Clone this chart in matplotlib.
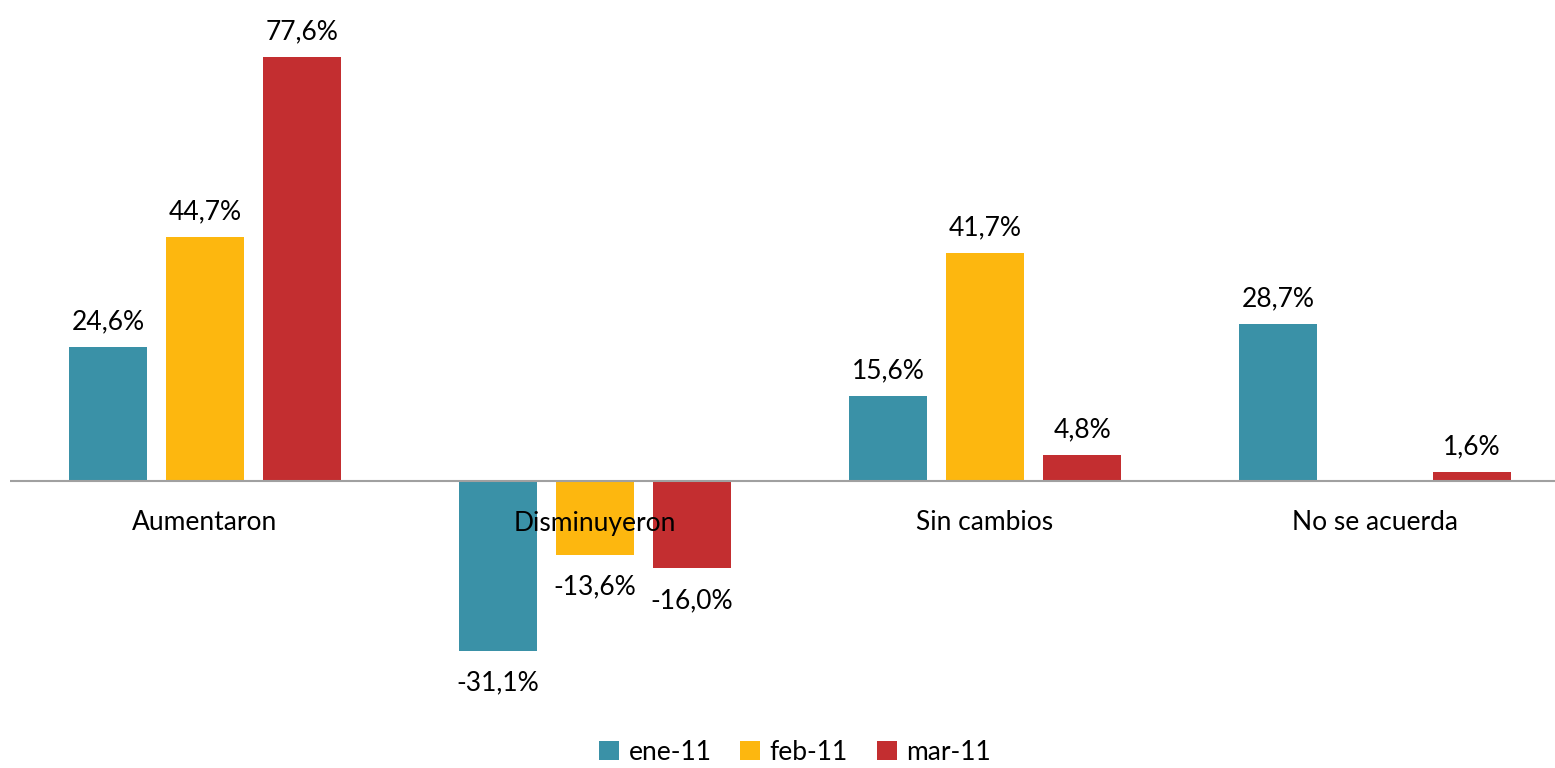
import matplotlib
matplotlib.use("Agg")
import matplotlib.pyplot as plt
import numpy as np
from matplotlib.transforms import offset_copy

categories = ["Aumentaron", "Disminuyeron", "Sin cambios", "No se acuerda"]
series_names = ["ene-11", "feb-11", "mar-11"]
ene = [24.6, -31.1, 15.6, 28.7]
feb = [44.7, -13.6, 41.7, np.nan]
mar = [77.6, -16.0, 4.8, 1.6]
colors = ["#3A91A7", "#FDB70F", "#C32E30"]

plt.rcParams['font.family'] = ['Lato', 'DejaVu Sans']
FS = 19

fig = plt.figure(figsize=(15.55, 7.68), dpi=100)
W, H = 1555, 768
ax = fig.add_axes([10 / W, (H - 700) / H, (1555 - 10) / W, 690 / H])

x = np.arange(len(categories))
width = 0.2
step = 0.249
data = [ene, feb, mar]
for i, (vals, name, c) in enumerate(zip(data, series_names, colors)):
    pos = x + (i - 1) * step
    v = np.array(vals, dtype=float)
    ax.bar(pos, np.nan_to_num(v), width, color=c, label=name, zorder=2)
    for p, val in zip(pos, v):
        if np.isnan(val):
            continue
        txt = f"{val:.1f}%".replace(".", ",")
        if val >= 0:
            tr = offset_copy(ax.transData, fig=fig, x=0, y=9, units='points')
            ax.text(p, val, txt, ha='center', va='bottom', fontsize=FS, transform=tr)
        else:
            tr = offset_copy(ax.transData, fig=fig, x=0, y=-14, units='points')
            ax.text(p, val, txt, ha='center', va='top', fontsize=FS, transform=tr)

ax.axhline(0, color="#A0A0A0", lw=1.5, zorder=3)
ax.set_xlim(-0.5, 3.5 - 15 / 390)
ax.set_ylim(-(700 - 481) / 5.464, (481 - 10) / 5.464)
for s in ax.spines.values():
    s.set_visible(False)
ax.set_yticks([])
ax.set_xticks([])

for xi, cat in zip(x, categories):
    tr = offset_copy(ax.transData, fig=fig, x=0, y=-42 * 72 / 100, units='points')
    ax.text(xi, 0, cat, ha='center', va='center', fontsize=FS, transform=tr, zorder=4)

leg = fig.legend(loc='center', bbox_to_anchor=(795 / W, 1 - 752 / H), ncol=3,
                 frameon=False, fontsize=FS, handlelength=0.75, handleheight=0.75,
                 handletextpad=0.35, columnspacing=1.1)

fig.savefig("out.png", dpi=100)
